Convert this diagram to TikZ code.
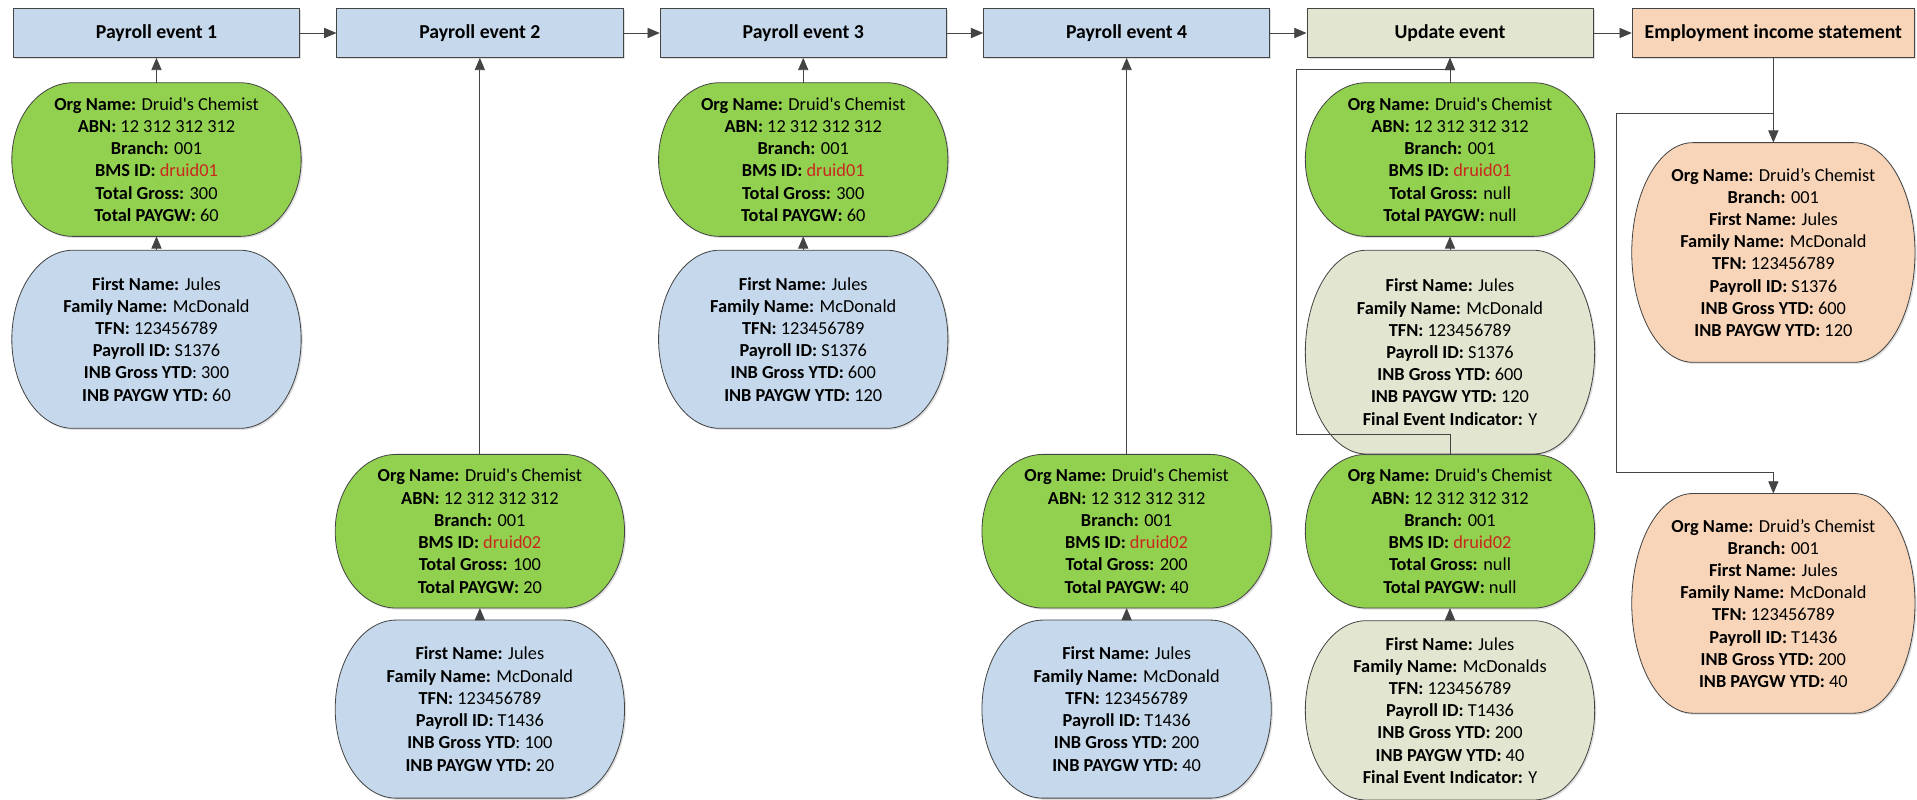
\documentclass[tikz,border=0pt]{standalone}
\usepackage{fontspec}
\setmainfont{Carlito}
\usetikzlibrary{arrows.meta,shadows,calc,backgrounds}
\definecolor{HeadBlue}{HTML}{C6D9EC}
\definecolor{OrgGreen}{HTML}{92D050}
\definecolor{UpdBeige}{HTML}{E2E6D0}
\definecolor{EisOrange}{HTML}{F8D5B8}
\definecolor{IdRed}{HTML}{C8281E}
\definecolor{LineGray}{HTML}{444444}
\newcommand{\fld}[2]{\textbf{#1:} #2}
\newcommand{\orgtext}[3]{\fld{Org Name}{Druid\textquotesingle s Chemist}\\ \fld{ABN}{12 312 312 312}\\ \fld{Branch}{001}\\
  \textbf{BMS ID:} \textcolor{IdRed}{#1}\\ \fld{Total Gross}{#2}\\ \fld{Total PAYGW}{#3}}
\newcommand{\staffhead}[3]{\fld{First Name}{Jules}\\ \fld{Family Name}{#1}\\ \fld{TFN}{123456789}\\ \fld{Payroll ID}{#2}\\ #3}
\newcommand{\pill}[2]{\draw[draw=LineGray, fill=#2, drop shadow={shadow xshift=0.8pt, shadow yshift=-0.8pt, opacity=0.25}]
  ([xshift=30pt]#1.north west) -- ([xshift=-30pt]#1.north east)
  .. controls ([xshift=-13.4pt]#1.north east) and ($(#1.east)!0.552!(#1.north east)$) .. (#1.east)
  .. controls ($(#1.east)!0.552!(#1.south east)$) and ([xshift=-13.4pt]#1.south east) .. ([xshift=-30pt]#1.south east)
  -- ([xshift=30pt]#1.south west)
  .. controls ([xshift=13.4pt]#1.south west) and ($(#1.west)!0.552!(#1.south west)$) .. (#1.west)
  .. controls ($(#1.west)!0.552!(#1.north west)$) and ([xshift=13.4pt]#1.north west) .. cycle;}

\begin{document}
\begin{tikzpicture}[x=0.6pt, y=-0.6pt,
    head/.style={draw=LineGray, fill=HeadBlue, minimum width=140.4pt, minimum height=24pt,
      font=\fontsize{9.7}{11}\selectfont\bfseries, drop shadow={shadow xshift=0.8pt, shadow yshift=-0.8pt, opacity=0.25}},
    rec/.style={align=center, inner sep=0pt, minimum width=141.6pt, font=\fontsize{9}{10.9}\selectfont},
    org/.style={rec, minimum height=75pt},
    staff/.style={rec, minimum height=87pt},
    eis/.style={rec, minimum width=138.6pt, minimum height=107.4pt},
    link/.style={draw=LineGray, thin, -{Triangle[width=5pt,length=6pt]}}]
  \useasboundingbox (0,0) rectangle (1568,654);

  \foreach \i in {1,...,4}
    \node[head] (h\i) at ({128+264.5*(\i-1)},27) {Payroll event \i};
  \node[head, fill=UpdBeige] (h5) at (1186,27) {Update event};
  \node[head, fill=EisOrange, minimum width=138.6pt] (h6) at (1450.5,27) {Employment income statement};
  \foreach \a/\b in {h1/h2,h2/h3,h3/h4,h4/h5,h5/h6}
    \draw[link] (\a) -- (\b);

  \node[org] (g1) at (128,130.5) {\orgtext{druid01}{300}{60}};
  \node[staff] (b1) at (128,277.5) {\staffhead{McDonald}{S1376}{\textbf{INB Gross YTD}: 300\\ \fld{INB PAYGW YTD}{60}}};

  \node[org] (g2) at (392.5,434.5) {\orgtext{druid02}{100}{20}};
  \node[staff] (b2) at (392.5,580) {\staffhead{McDonald}{T1436}{\textbf{INB Gross YTD}: 100\\ \fld{INB PAYGW YTD}{20}}};

  \node[org] (g3) at (657,130.5) {\orgtext{druid01}{300}{60}};
  \node[staff] (b3) at (657,277.5) {\staffhead{McDonald}{S1376}{\fld{INB Gross YTD}{600}\\ \fld{INB PAYGW YTD}{120}}};

  \node[org] (g4) at (921.5,434.5) {\orgtext{druid02}{200}{40}};
  \node[staff] (b4) at (921.5,580) {\staffhead{McDonald}{T1436}{\fld{INB Gross YTD}{200}\\ \fld{INB PAYGW YTD}{40}}};

  \node[org] (g5a) at (1186,130.5) {\orgtext{druid01}{null}{null}};
  \node[rec, minimum height=99.6pt] (u5a) at (1186,288) {\staffhead{McDonald}{S1376}{\fld{INB Gross YTD}{600}\\ \fld{INB PAYGW YTD}{120}\\ \fld{Final Event Indicator}{Y}}};
  \node[org] (g5b) at (1186,434.5) {\orgtext{druid02}{null}{null}};
  \node[rec, minimum height=87.6pt] (u5b) at (1186,581) {\staffhead{McDonalds}{T1436}{\fld{INB Gross YTD}{200}\\ \fld{INB PAYGW YTD}{40}\\ \fld{Final Event Indicator}{Y}}};

  \node[eis] (o1) at (1450.5,206.5) {\fld{Org Name}{Druid’s Chemist}\\ \fld{Branch}{001}\\ \staffhead{McDonald}{S1376}{\fld{INB Gross YTD}{600}\\ \fld{INB PAYGW YTD}{120}}};
  \node[eis] (o2) at (1450.5,493.5) {\fld{Org Name}{Druid’s Chemist}\\ \fld{Branch}{001}\\ \staffhead{McDonald}{T1436}{\fld{INB Gross YTD}{200}\\ \fld{INB PAYGW YTD}{40}}};

  \begin{pgfonlayer}{background}
    \foreach \n/\c in {g1/OrgGreen,g2/OrgGreen,g3/OrgGreen,g4/OrgGreen,g5a/OrgGreen,g5b/OrgGreen,
        b1/HeadBlue,b2/HeadBlue,b3/HeadBlue,b4/HeadBlue,u5a/UpdBeige,u5b/UpdBeige,o1/EisOrange,o2/EisOrange}
      {\pill{\n}{\c}}
  \end{pgfonlayer}

  \foreach \a/\b in {g1/h1,b1/g1,g2/h2,b2/g2,g3/h3,b3/g3,g4/h4,b4/g4,g5a/h5,u5a/g5a,u5b/g5b}
    \draw[link] (\a.north) -- (\b.south);

  \coordinate (loopB) at (1060,355);
  \coordinate (loopT) at (1060,57);
  \draw[link] (g5b.north) |- (loopB) -- (loopT) -| (h5.south);

  \coordinate (splitT) at (1322,93);
  \coordinate (splitB) at (1322,386);
  \draw[link] (h6.south) -- (o1.north);
  \draw[link] (h6.south |- splitT) -- (splitT) -- (splitB) -| (o2.north);
\end{tikzpicture}
\end{document}
